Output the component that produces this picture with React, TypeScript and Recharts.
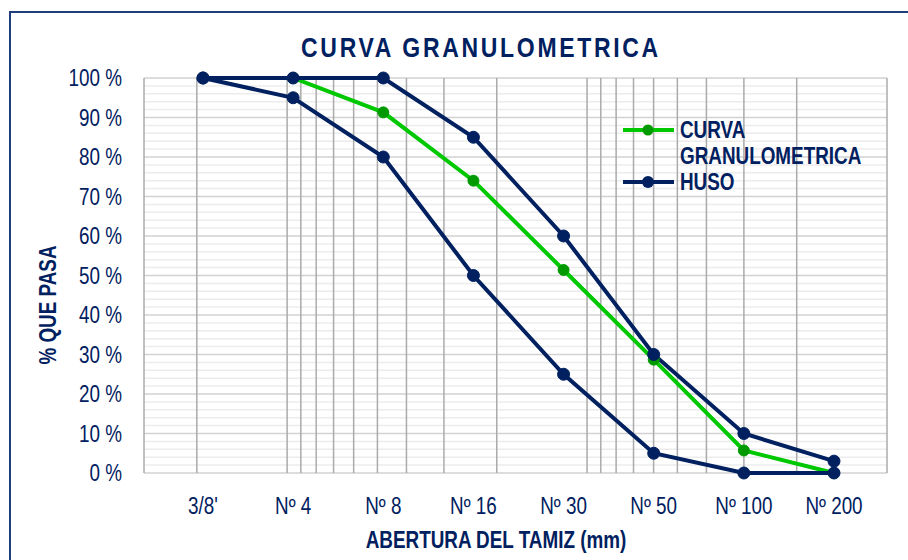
import React from 'react'
import { LineChart, Line, XAxis, YAxis, CartesianGrid } from 'recharts'

const sieves = ["3/8'", 'Nº 4', 'Nº 8', 'Nº 16', 'Nº 30', 'Nº 50', 'Nº 100', 'Nº 200']
const curva = [100, 100, 91.3, 74, 51.4, 28.7, 5.7, 0]
const husoSup = [100, 100, 100, 85, 60, 30, 10, 3]
const husoInf = [100, 95, 80, 50, 25, 5, 0, 0]

const yTicks = [0, 10, 20, 30, 40, 50, 60, 70, 80, 90, 100]
const yMinorTicks = [2, 4, 6, 8, 12, 14, 16, 18, 22, 24, 26, 28, 32, 34, 36, 38, 42, 44, 46, 48,
  52, 54, 56, 58, 62, 64, 66, 68, 72, 74, 76, 78, 82, 84, 86, 88, 92, 94, 96, 98]
// rejilla logaritmica (abertura, mm) detras de las categorias, de 30 a 0.1
const logGrid = [30, 20, 10, 9, 8, 7, 6, 5, 4, 3, 2, 1, 0.9, 0.8, 0.7, 0.6, 0.5, 0.4, 0.3, 0.2, 0.1]
const logMax = 30
const logMin = 0.1

const data = sieves.map((sieve, i) => ({
  sieve,
  curva: curva[i],
  husoSup: husoSup[i],
  husoInf: husoInf[i],
}))

const NAVY = '#002060'
const GREEN = '#00c800'
const FONT = "'Liberation Sans', Arial, sans-serif"
const NARROW = 0.82

function YTick(props: any) {
  const { x, y, payload } = props
  return (
    <text
      transform={`translate(${x},${y}) scale(${NARROW},1)`}
      textAnchor="end"
      dominantBaseline="central"
      fill={NAVY}
      fontSize={23}
      fontFamily={FONT}
    >
      {`${payload.value} %`}
    </text>
  )
}

function XTick(props: any) {
  const { x, y, payload } = props
  return (
    <text
      transform={`translate(${x},${y}) scale(${NARROW},1)`}
      textAnchor="middle"
      dy="0.71em"
      fill={NAVY}
      fontSize={23}
      fontFamily={FONT}
    >
      {payload.value}
    </text>
  )
}

const logX = ({ offset }: any) =>
  logGrid.map(v => offset.left + (Math.log(logMax / v) / Math.log(logMax / logMin)) * offset.width)

const minorY = ({ offset }: any) =>
  yMinorTicks.map(v => offset.top + offset.height * (1 - v / 100))

const txtBase: React.CSSProperties = {
  position: 'absolute', fontFamily: FONT, fontWeight: 700, color: NAVY, whiteSpace: 'nowrap',
}

function LegendBox() {
  const t: React.CSSProperties = { ...txtBase, fontSize: 23, lineHeight: '20px', transform: `scaleX(${NARROW})`, transformOrigin: 'left center' }
  return (
    <div style={{ position: 'absolute', left: 623, top: 117, width: 260, height: 80 }}>
      <svg width={56} height={80} style={{ position: 'absolute', left: 0, top: 0 }}>
        <line x1={0} y1={13} x2={51} y2={13} stroke={GREEN} strokeWidth={4} />
        <circle cx={25} cy={13} r={5.5} fill="#009a00" />
        <line x1={0} y1={65} x2={51} y2={65} stroke={NAVY} strokeWidth={4} />
        <circle cx={25} cy={65} r={6} fill={NAVY} />
      </svg>
      <div style={{ ...t, left: 57, top: 3 }}>CURVA</div>
      <div style={{ ...t, left: 57, top: 29 }}>GRANULOMETRICA</div>
      <div style={{ ...t, left: 57, top: 55 }}>HUSO</div>
    </div>
  )
}

export default function App() {
  return (
    <div style={{ position: 'absolute', left: 0, top: 0, width: 908, height: 560, background: '#fff', overflow: 'hidden' }}>
      <div style={{
        position: 'absolute', left: 9, top: 11, width: 1000, height: 700,
        border: '2px solid #203d7c', boxSizing: 'border-box',
      }} />
      <div style={{ position: 'absolute', left: 0, top: 0 }}>
        <LineChart width={908} height={560} data={data} margin={{ top: 78, right: 21, bottom: 57, left: 84 }}>
          <CartesianGrid vertical={false} horizontalCoordinatesGenerator={minorY} stroke="#ececec" strokeWidth={1.5} />
          <CartesianGrid vertical={false} stroke="#d2d2d2" strokeWidth={1.5} />
          <CartesianGrid horizontal={false} verticalCoordinatesGenerator={logX} stroke="#ababab" strokeWidth={1.5} />
          <XAxis
            dataKey="sieve"
            padding={{ left: 59, right: 53 }}
            tickLine={false}
            axisLine={false}
            tickMargin={19}
            interval={0}
            height={30}
            tick={<XTick />}
          />
          <YAxis
            type="number"
            domain={[0, 100]}
            ticks={yTicks}
            tickLine={false}
            axisLine={false}
            tickMargin={16}
            width={60}
            tick={<YTick />}
          />
          <Line
            dataKey="curva"
            name="CURVA GRANULOMETRICA"
            stroke={GREEN}
            strokeWidth={4}
            dot={{ r: 5.5, fill: '#009a00', stroke: '#009a00', strokeWidth: 1 }}
            isAnimationActive={false}
          />
          <Line
            dataKey="husoSup"
            name="HUSO"
            stroke={NAVY}
            strokeWidth={4}
            dot={{ r: 6, fill: NAVY, stroke: NAVY, strokeWidth: 1 }}
            isAnimationActive={false}
          />
          <Line
            dataKey="husoInf"
            name="HUSO"
            stroke={NAVY}
            strokeWidth={4}
            dot={{ r: 6, fill: NAVY, stroke: NAVY, strokeWidth: 1 }}
            isAnimationActive={false}
          />
        </LineChart>
      </div>
      <div style={{
        ...txtBase, left: 0, width: 962, top: 34, textAlign: 'center',
        fontSize: 28, letterSpacing: 3.3, lineHeight: '28px',
        transform: `scaleX(${NARROW})`, transformOrigin: '481px 0',
      }}>
        CURVA GRANULOMETRICA
      </div>
      <div style={{
        ...txtBase, left: 48, top: 305, fontSize: 23,
        transform: `translate(-50%, -50%) rotate(-90deg) scaleX(${NARROW})`,
      }}>
        % QUE PASA
      </div>
      <div style={{
        ...txtBase, left: 0, width: 992, top: 529, textAlign: 'center', fontSize: 23, lineHeight: '23px',
        transform: `scaleX(${NARROW})`, transformOrigin: '496px 0',
      }}>
        ABERTURA DEL TAMIZ (mm)
      </div>
      <LegendBox />
    </div>
  )
}
